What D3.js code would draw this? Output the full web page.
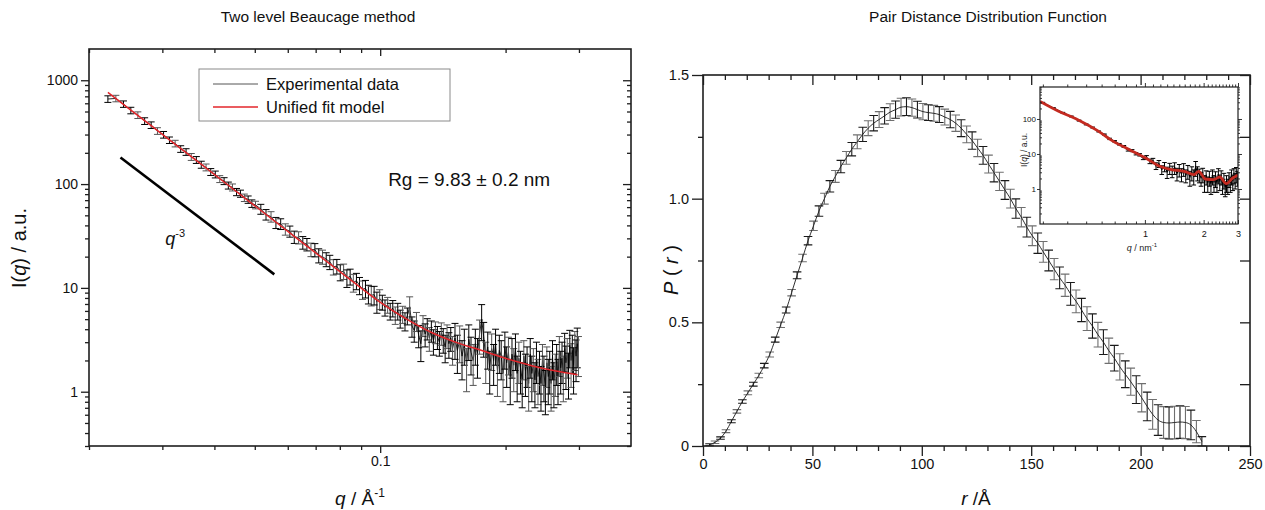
<!DOCTYPE html>
<html>
<head>
<meta charset="utf-8">
<script src="https://cdn.jsdelivr.net/npm/d3@7"></script>
<style>
body { margin: 0; background: #fff; }
svg { font-family: "Liberation Sans", Arial, sans-serif; }
</style>
</head>
<body>
<svg id="chart" width="1265" height="510"></svg>
<script>
// ---- left panel: SAXS curve (q in 1/A) ----
var expQ = [0.0222,0.0232,0.0242,0.0252,0.0262,0.0272,0.0282,0.0292,0.0302,0.0312,0.0322,0.0332,0.0342,0.0352,0.0362,0.0372,0.0382,0.0392,0.0402,0.0412,0.0422,0.0432,0.0442,0.0452,0.0462,0.0472,0.0482,0.0492,0.0502,
  0.0517,0.0532,0.0547,0.0562,0.0577,0.0592,0.0607,0.0622,0.0637,0.0652,0.0667,0.0682,0.0697,0.0712,0.0727,0.0742,0.0757,0.0772,0.0787,0.0802,0.0817,0.0832,0.0847,0.0862,0.0877,0.0892,0.0907,0.0922,0.0937,0.0952,0.0967,0.0982,0.0997,
  0.1012,0.1027,0.1042,0.1057,0.1072,0.1087,0.1102,0.1117,0.1132,0.1147,0.1162,0.1177,0.1192,0.1207,0.1222,0.1237,0.1252,0.1267,0.1282,0.1297,0.1312,0.1327,0.1342,0.1357,0.1372,0.1387,0.1402,0.1417,0.1432,0.1447,0.1462,0.1477,0.1492,
  0.1512,0.1532,0.1552,0.1572,0.1592,0.1612,0.1632,0.1652,0.1672,0.1692,0.1712,0.1732,0.1752,0.1772,0.1792,0.1812,0.1832,0.1852,0.1872,0.1892,0.1912,0.1932,0.1952,0.1972,0.1992,0.2012,0.2032,0.2052,0.2072,0.2092,0.2112,0.2132,0.2152,0.2172,0.2192,0.2212,0.2232,0.2252,0.2272,0.2292,0.2312,0.2332,0.2352,0.2372,0.2392,0.2412,0.2432,0.2452,0.2472,0.2492,0.2512,0.2532,0.2552,0.2572,0.2592,0.2612,0.2632,0.2652,0.2672,0.2692,0.2712,0.2732,0.2752,0.2772,0.2792,0.2812,0.2832,0.2852,0.2872,0.2892,0.2912,0.2932,0.2952,0.2972,0.2992]
var expI = [660,668,590,512,462,405,370,325,299,265,246,218,204,183,171,154,145,131,124,112,107,97,93,84,81,74,71,65,63,
  57.5,50.9,48.6,42.5,41.4,36.8,35.1,31.0,30.6,27.4,26.3,23.5,23.3,20.6,20.0,18.9,17.8,16.0,16.2,14.2,14.5,12.5,12.9,11.3,11.7,10.6,9.7,9.9,8.8,8.5,8.6,7.4,7.9,
  7.3,6.5,6.9,6.0,6.4,5.5,6.0,5.1,5.6,4.8,5.4,6.6,4.3,3.9,4.8,3.5,2.9,4.4,3.6,4.1,3.3,3.9,3.1,3.8,3.4,3.0,3.7,3.2,2.7,3.5,2.9,3.3,2.6,
  3.3,2.5,3.1,2.2,2.9,1.8,3.2,2.4,2.0,2.9,2.3,3.6,5.0,3.4,2.1,2.7,1.7,2.6,2.0,2.9,1.6,2.5,2.2,1.5,2.7,1.9,2.4,1.4,2.3,1.8,2.6,1.5,2.1,1.7,1.3,2.2,1.6,1.9,1.2,2.3,1.5,1.8,1.3,2.1,1.4,1.7,1.2,2.0,1.5,1.1,1.9,1.4,1.7,1.2,2.2,1.3,1.6,2.0,1.4,2.4,1.7,2.1,1.5,2.6,1.9,2.3,1.6,2.8,2.0,2.5,1.8,2.7,2.2,2.9,2.4]
var expErr = [48,48,42,37,34,30,27,24,22,19,18,16,15,14,13,12,11,10,9.4,8.6,8.2,7.5,7.2,6.7,6.4,6.1,5.8,5.4,5.3,
  6.3,5.9,5.6,5.2,4.9,4.6,4.3,4.2,4.1,3.8,3.6,3.5,3.4,3.2,3.1,2.9,2.8,2.7,2.6,2.5,2.45,2.4,2.25,2.2,2.1,2.0,1.95,1.9,1.8,1.8,1.75,1.7,1.7,
  1.2,1.15,1.2,1.1,1.15,1.05,1.1,1.0,1.05,0.95,1.0,1.6,0.95,0.9,1.0,0.85,0.95,1.0,0.9,0.95,0.85,0.9,0.85,0.9,0.85,0.8,0.9,0.85,0.8,0.9,0.8,0.85,0.8,
  1.25,1.0,1.2,0.9,1.1,0.8,1.2,0.95,0.85,1.1,0.95,1.3,1.9,1.25,0.9,1.05,0.75,1.0,0.85,1.1,0.7,1.0,0.9,0.7,1.05,0.8,0.95,0.65,0.95,0.8,1.0,0.7,0.9,0.75,0.6,0.9,0.7,0.8,0.55,0.95,0.7,0.8,0.6,0.9,0.65,0.75,0.55,0.85,0.7,0.5,0.8,0.65,0.75,0.55,0.9,0.6,0.7,0.85,0.65,1.0,0.75,0.9,0.7,1.05,0.85,0.95,0.75,1.1,0.9,1.0,0.85,1.1,0.95,1.2,1.0]
var fitQ = [0.0222,0.028,0.0369,0.0486,0.064,0.0843,0.0995,0.1141,0.1332,0.1528,0.1754,0.2013,0.231,0.2623,0.2977]
var fitI = [764,373,159,67.5,28.7,12.2,7.38,5.17,3.7,2.97,2.49,2.08,1.78,1.59,1.46]
var slopeQ = [0.0238, 0.0557]
var slopeI = [180, 13.5]
var leftYMajor = [1, 10, 100, 1000]
var leftXMajor = [0.1]
var leftXMinor = [0.02,0.03,0.04,0.05,0.06,0.07,0.08,0.09,0.2,0.3]

// ---- right panel: pair distance distribution ----
var prR = [3,5.5,8,10.5,13,15.5,18,20.5,23,25.5,28,30.5,33,35.5,38,40.5,43,45.5,48,50.5,53,55.5,58,60.5,63,65.5,68,70.5,73,75.5,78,80.5,83,85.5,88,90.5,93,95.5,98,100.5,103,105.5,108,110.5,113,115.5,118,120.5,123,125.5,128,130.5,133,135.5,138,140.5,143,145.5,148,150.5,153,155.5,158,160.5,163,165.5,168,170.5,173,175.5,178,180.5,183,185.5,188,190.5,193,195.5,198,200.5,203,205.5,208,210.5,213,215.5,218,220.5,223,225.5,228]
var prP = [0.005,0.015,0.032,0.06,0.10,0.14,0.18,0.215,0.25,0.285,
  0.325,0.37,0.43,0.49,0.55,0.62,0.69,0.76,0.83,0.89,
  0.95,1.0,1.05,1.09,1.13,1.165,1.2,1.23,1.26,1.285,
  1.305,1.32,1.335,1.35,1.36,1.37,1.372,1.368,1.36,1.352,
  1.348,1.345,1.34,1.33,1.32,1.305,1.285,1.26,1.235,1.205,
  1.175,1.14,1.105,1.07,1.035,1.0,0.96,0.925,0.885,0.85,
  0.82,0.785,0.75,0.715,0.68,0.65,0.615,0.585,0.55,0.515,
  0.485,0.45,0.42,0.385,0.355,0.32,0.29,0.26,0.228,0.195,
  0.16,0.128,0.105,0.095,0.093,0.095,0.097,0.095,0.085,0.058,0.018]
var prErr = [0.004,0.005,0.005,0.006,0.006,0.007,0.007,0.008,0.008,0.009,
  0.009,0.01,0.01,0.011,0.012,0.013,0.014,0.015,0.017,0.019,
  0.021,0.022,0.023,0.024,0.025,0.026,0.027,0.028,0.029,0.03,
  0.031,0.032,0.033,0.034,0.035,0.036,0.036,0.035,0.034,0.033,
  0.032,0.032,0.032,0.032,0.033,0.033,0.034,0.034,0.035,0.035,
  0.036,0.036,0.037,0.037,0.038,0.038,0.039,0.039,0.04,0.04,
  0.041,0.042,0.042,0.043,0.044,0.045,0.046,0.046,0.047,0.048,
  0.049,0.05,0.05,0.051,0.052,0.053,0.054,0.055,0.056,0.057,
  0.058,0.06,0.062,0.064,0.065,0.066,0.066,0.065,0.06,0.045,0.02]
var rMajor = [0, 50, 100, 150, 200, 250]
var pMajor = [0, 0.5, 1.0, 1.5]
var pMinor = [0.25, 0.75, 1.25]

// ---- inset: SAXS curve in 1/nm ----
var insQ = [0.30,0.34,0.38,0.42,0.46,0.50,0.54,0.58,0.62,0.66,0.70,0.74,0.78,0.82,0.86,0.90,0.94,0.98,1.02,1.06,1.10,1.14,1.18,1.22,1.26,1.30,1.34,1.38,1.42,1.46,1.50,1.54,1.58,1.62,1.66,1.70,1.74,1.78,1.82,1.86,1.90,1.94,1.98,2.02,2.06,2.10,2.14,2.18,2.22,2.26,2.30,2.34,2.38,2.42,2.46,2.50,2.54,2.58,2.62,2.66,2.70,2.74,2.78,2.82,2.86,2.90,2.94,2.98]
var insI = [290,205,150,118,90,70,57,44,36,27,23,19,16.5,13.0,12.5,10.2,9.5,7.6,8.0,6.2,6.4,4.6,5.3,3.6,4.4,3.1,4.0,3.3,4.1,2.8,3.6,2.7,3.8,2.5,3.3,2.2,3.0,2.4,4.2,3.0,2.6,2.1,2.7,1.6,2.3,1.5,2.2,1.4,2.4,1.6,2.1,1.5,2.6,1.7,2.3,1.3,1.9,1.1,1.6,1.3,2.0,1.5,2.4,1.7,2.6,1.9,2.8,2.2]
var insErr = [9,6,4.5,3.5,2.8,2.2,1.8,1.5,1.3,1.2,1.1,1.0,0.95,0.9,0.85,0.8,0.75,0.7,1.0,0.9,1.1,1.0,1.2,1.0,1.3,1.1,1.4,1.2,1.5,1.1,1.4,1.1,1.5,1.0,1.4,1.0,1.3,1.1,1.9,1.3,1.1,0.9,1.2,0.8,1.0,0.7,1.0,0.7,1.1,0.8,1.0,0.7,1.2,0.8,1.0,0.6,0.9,0.5,0.8,0.6,0.9,0.7,1.1,0.8,1.2,0.9,1.3,1.0]
var insFitQ = [0.29,0.361,0.453,0.569,0.689,0.833,1.008,1.173,1.366,1.59,1.783,1.888,2.04,2.24,2.42,2.61,2.82,3.0]
var insFitI = [316,166,95.7,47.4,23,13.3,7.7,4.64,3.57,3.2,2.57,3.2,1.93,1.85,2.2,1.42,2.06,2.5]
var insXMajor = [1, 2, 3]
var insYMajor = [1, 10, 100]

var logSteps = [2,3,4,5,6,7,8,9]

var svg = d3.select("#chart")
var ink = "#1e1e1e"

function logMinor(decades, lo, hi){
  var out = []
  decades.forEach(function(d){
    logSteps.forEach(function(m){
      var v = d * m
      if(v > lo && v < hi) out.push(v)
    })
  })
  return out
}

function drawTicks(g, orient, scale, vals, len, pos, fmt, fs){
  var mk = {bottom: d3.axisBottom, top: d3.axisTop, left: d3.axisLeft, right: d3.axisRight}[orient]
  var ax = mk(scale).tickValues(vals).tickSizeInner(len).tickSizeOuter(0).tickPadding(3)
    .tickFormat(fmt ? fmt : function(){ return "" })
  var tr = (orient == "bottom" || orient == "top") ? "translate(0," + pos + ")" : "translate(" + pos + ",0)"
  var a = g.append("g").attr("transform", tr).call(ax)
  a.attr("font-family", null).attr("font-size", null)
  a.select(".domain").remove()
  a.selectAll(".tick line").attr("stroke", ink).attr("stroke-width", 1.3)
  a.selectAll(".tick text").attr("fill", "#111").style("font-size", (fs || 14) + "px")
  return a
}

function errPath(x, y, lo, hi, w){
  return "M" + (x - w) + "," + hi + "H" + (x + w) + "M" + x + "," + hi + "V" + lo + "M" + (x - w) + "," + lo + "H" + (x + w)
}

function frame(g, x0, y0, x1, y1, sw){
  g.append("rect").attr("x", x0).attr("y", y0).attr("width", x1 - x0).attr("height", y1 - y0)
    .attr("fill", "none").attr("stroke", ink).attr("stroke-width", sw)
}

// ================= LEFT PANEL =================
var L = {l: 89, r: 631, t: 49, b: 446}
var xL = d3.scaleLog().domain([0.02, 0.4]).range([L.l, L.r])
var yL = d3.scaleLog().domain([0.3, 2000]).range([L.b, L.t])
var gL = svg.append("g")

svg.append("clipPath").attr("id", "clipL").append("rect")
  .attr("x", L.l).attr("y", L.t).attr("width", L.r - L.l).attr("height", L.b - L.t)

var leftYMinor = logMinor([0.1, 1, 10, 100, 1000], 0.3, 2000)
drawTicks(gL, "bottom", xL, leftXMinor, 4, L.b)
drawTicks(gL, "bottom", xL, leftXMajor, 7, L.b, function(d){ return "0.1" })
drawTicks(gL, "top", xL, leftXMinor, -4, L.t)
drawTicks(gL, "top", xL, leftXMajor, -7, L.t)
drawTicks(gL, "left", yL, leftYMinor, 4, L.l)
drawTicks(gL, "left", yL, leftYMajor, 8, L.l, function(d){ return String(d) })
drawTicks(gL, "right", yL, leftYMinor, -4, L.r)
drawTicks(gL, "right", yL, leftYMajor, -8, L.r)

var expData = expQ.map(function(q, i){ return {q: q, v: expI[i], e: expErr[i]} })
var plotL = gL.append("g").attr("clip-path", "url(#clipL)")

plotL.append("path")
  .attr("d", d3.line().x(function(d){ return xL(d.q) }).y(function(d){ return yL(d.v) })(expData))
  .attr("fill", "none").attr("stroke", "#111").attr("stroke-width", 0.9)

plotL.selectAll("path.eb").data(expData).enter().append("path")
  .attr("class", "eb")
  .attr("d", function(d){
    return errPath(xL(d.q), yL(d.v), yL(Math.max(d.v - d.e, 0.31)), yL(d.v + d.e), 3.5)
  })
  .attr("fill", "none").attr("stroke", function(d, i){ return i % 3 == 1 ? "#555" : "#000" }).attr("stroke-width", 1)

var fitData = fitQ.map(function(q, i){ return {q: q, v: fitI[i]} })
plotL.append("path")
  .attr("d", d3.line().curve(d3.curveMonotoneX).x(function(d){ return xL(d.q) }).y(function(d){ return yL(d.v) })(fitData))
  .attr("fill", "none").attr("stroke", "#e3262b").attr("stroke-width", 1.5)

// q^-3 guide line
plotL.append("line")
  .attr("x1", xL(slopeQ[0])).attr("y1", yL(slopeI[0]))
  .attr("x2", xL(slopeQ[1])).attr("y2", yL(slopeI[1]))
  .attr("stroke", "#000").attr("stroke-width", 2.6)

var qlab = gL.append("text").attr("x", xL(0.0305)).attr("y", yL(26)).style("font-size", "18px").attr("fill", "#111")
qlab.append("tspan").style("font-style", "italic").text("q")
qlab.append("tspan").attr("dy", -8).style("font-size", "11px").text("-3")

gL.append("text").attr("x", xL(0.1045)).attr("y", yL(95))
  .style("font-size", "19px").attr("fill", "#111").text("Rg = 9.83 \u00b1 0.2 nm")

frame(gL, L.l, L.t, L.r, L.b, 1.6)

// legend
var leg = gL.append("g")
leg.append("rect").attr("x", 199).attr("y", 69).attr("width", 251).attr("height", 52)
  .attr("fill", "#fff").attr("stroke", "#8a8a8a").attr("stroke-width", 1)
var legItems = [{label: "Experimental data", color: "#555", w: 1}, {label: "Unified fit model", color: "#e3262b", w: 1.5}]
legItems.forEach(function(it, i){
  var yy = 84 + i * 23
  leg.append("line").attr("x1", 213).attr("x2", 258).attr("y1", yy).attr("y2", yy)
    .attr("stroke", it.color).attr("stroke-width", it.w)
  leg.append("text").attr("x", 266).attr("y", yy + 6).style("font-size", "16.5px").attr("fill", "#111").text(it.label)
})

// titles and axis labels
svg.append("text").attr("x", 318).attr("y", 22).attr("text-anchor", "middle")
  .style("font-size", "15.5px").attr("fill", "#111").text("Two level Beaucage method")

var xlabL = svg.append("text").attr("x", 360).attr("y", 505).attr("text-anchor", "middle").style("font-size", "19px").attr("fill", "#111")
xlabL.append("tspan").style("font-style", "italic").text("q")
xlabL.append("tspan").text(" / \u00c5")
xlabL.append("tspan").attr("dy", -8).style("font-size", "12px").text("-1")

var ylabL = svg.append("text").attr("transform", "translate(26,248) rotate(-90)").attr("text-anchor", "middle")
  .style("font-size", "20px").attr("fill", "#111")
ylabL.append("tspan").text("I(")
ylabL.append("tspan").style("font-style", "italic").text("q")
ylabL.append("tspan").text(") / a.u.")

// ================= RIGHT PANEL =================
var R = {l: 703, r: 1250, t: 75, b: 446}
var xR = d3.scaleLinear().domain([0, 250]).range([R.l, R.r])
var yR = d3.scaleLinear().domain([0, 1.5]).range([R.b, R.t])
var gR = svg.append("g")
var rMinor = d3.range(10, 250, 10).filter(function(v){ return v % 50 != 0 })

drawTicks(gR, "bottom", xR, rMinor, 5, R.b)
drawTicks(gR, "bottom", xR, rMajor, 10, R.b, function(d){ return String(d) }, 14.5)
drawTicks(gR, "top", xR, rMinor, -5, R.t)
drawTicks(gR, "top", xR, rMajor, -10, R.t)
drawTicks(gR, "left", yR, pMinor, 5, R.l)
drawTicks(gR, "left", yR, pMajor, 11, R.l, function(d){ return d == 0 ? "0" : d3.format(".1f")(d) }, 14.5)
drawTicks(gR, "right", yR, pMinor, -10, R.r)
drawTicks(gR, "right", yR, pMajor, -10, R.r)

var prData = prR.map(function(r, i){ return {r: r, v: prP[i], e: prErr[i]} })
gR.selectAll("path.pe").data(prData).enter().append("path")
  .attr("class", "pe")
  .attr("d", function(d){ return errPath(xR(d.r), yR(d.v), yR(Math.max(d.v - d.e, 0)), yR(d.v + d.e), 4.3) })
  .attr("fill", "none").attr("stroke", function(d, i){ return i % 2 ? "#6f6f6f" : "#1a1a1a" }).attr("stroke-width", 1.1)

gR.append("path")
  .attr("d", d3.line().curve(d3.curveMonotoneX).x(function(d){ return xR(d.r) }).y(function(d){ return yR(d.v) })(prData))
  .attr("fill", "none").attr("stroke", "#1a1a1a").attr("stroke-width", 0.9)

frame(gR, R.l, R.t, R.r, R.b, 1.6)

svg.append("text").attr("x", 988).attr("y", 22).attr("text-anchor", "middle")
  .style("font-size", "15.5px").attr("fill", "#111").text("Pair Distance Distribution Function")

var xlabR = svg.append("text").attr("x", 976).attr("y", 505).attr("text-anchor", "middle").style("font-size", "19px").attr("fill", "#111")
xlabR.append("tspan").style("font-style", "italic").text("r")
xlabR.append("tspan").text(" /\u00c5")

var ylabR = svg.append("text").attr("transform", "translate(678,270) rotate(-90)").attr("text-anchor", "middle")
  .style("font-size", "20px").attr("fill", "#111")
ylabR.append("tspan").style("font-style", "italic").text("P")
ylabR.append("tspan").text(" ( ")
ylabR.append("tspan").style("font-style", "italic").text("r")
ylabR.append("tspan").text(" )")

// ================= INSET =================
var N = {l: 1040, r: 1238, t: 87, b: 224}
var xN = d3.scaleLog().domain([0.29, 3]).range([N.l, N.r])
var yN = d3.scaleLog().domain([0.1, 820]).range([N.b, N.t])
var gN = svg.append("g")
gN.append("rect").attr("x", N.l).attr("y", N.t).attr("width", N.r - N.l).attr("height", N.b - N.t).attr("fill", "#fff")
svg.append("clipPath").attr("id", "clipN").append("rect")
  .attr("x", N.l).attr("y", N.t).attr("width", N.r - N.l).attr("height", N.b - N.t)

var insXMinor = logMinor([0.1], 0.29, 1).concat(d3.range(1.1, 2.95, 0.1).filter(function(v){ return Math.abs(v - 2) > 0.01 }))
var insYMinor = logMinor([0.1, 1, 10, 100], 0.1, 820)

var plotN = gN.append("g").attr("clip-path", "url(#clipN)")
var insData = insQ.map(function(q, i){ return {q: q, v: insI[i], e: insErr[i]} })
plotN.selectAll("path.ie").data(insData).enter().append("path")
  .attr("class", "ie")
  .attr("d", function(d){ return errPath(xN(d.q), yN(d.v), yN(Math.max(d.v - d.e, 0.11)), yN(d.v + d.e), 2.3) })
  .attr("fill", "none").attr("stroke", "#000").attr("stroke-width", 1)
plotN.append("path")
  .attr("d", d3.line().x(function(d){ return xN(d.q) }).y(function(d){ return yN(d.v) })(insData))
  .attr("fill", "none").attr("stroke", "#000").attr("stroke-width", 1.2)
var insFit = insFitQ.map(function(q, i){ return {q: q, v: insFitI[i]} })
plotN.append("path")
  .attr("d", d3.line().curve(d3.curveMonotoneX).x(function(d){ return xN(d.q) }).y(function(d){ return yN(d.v) })(insFit))
  .attr("fill", "none").attr("stroke", "#c42a20").attr("stroke-width", 2.8)

function thin(a){ a.selectAll(".tick line").attr("stroke-width", 0.9) }
thin(drawTicks(gN, "bottom", xN, insXMinor, -2.5, N.b))
thin(drawTicks(gN, "bottom", xN, insXMajor, -4, N.b, function(d){ return String(d) }, 9))
gN.selectAll("text").attr("dy", "1.1em")
thin(drawTicks(gN, "top", xN, insXMinor, 2.5, N.t))
thin(drawTicks(gN, "top", xN, insXMajor, 4, N.t))
thin(drawTicks(gN, "left", yN, insYMinor, -2, N.l))
var yl = drawTicks(gN, "left", yN, insYMajor, 3, N.l, function(d){ return String(d) }, 8)
thin(yl)
yl.selectAll(".tick text").attr("x", -4)
thin(drawTicks(gN, "right", yN, insYMinor, 2, N.r))
thin(drawTicks(gN, "right", yN, insYMajor, 4, N.r))
frame(gN, N.l, N.t, N.r, N.b, 1.2)

var xlabN = gN.append("text").attr("x", 1142).attr("y", 251).attr("text-anchor", "middle").style("font-size", "9px").attr("fill", "#222")
xlabN.append("tspan").style("font-style", "italic").text("q")
xlabN.append("tspan").text(" / nm")
xlabN.append("tspan").attr("dy", -4).style("font-size", "6px").text("-1")

var ylabN = gN.append("text").attr("transform", "translate(1027,150) rotate(-90)").attr("text-anchor", "middle")
  .style("font-size", "8.5px").attr("fill", "#222")
ylabN.append("tspan").text("I(")
ylabN.append("tspan").style("font-style", "italic").text("q")
ylabN.append("tspan").text(") / a.u.")
</script>
</body>
</html>
